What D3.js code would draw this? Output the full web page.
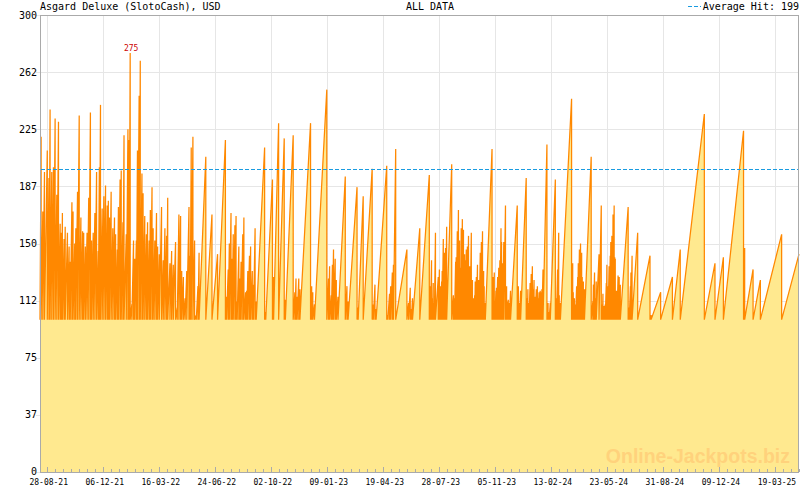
<!DOCTYPE html>
<html><head><meta charset="utf-8">
<script src="https://cdn.jsdelivr.net/npm/d3@7/dist/d3.min.js"></script>
<style>
body{margin:0;background:#fff}
svg{display:block}
text{font-family:"DejaVu Sans Mono",monospace;font-size:10px;fill:#000}
</style>
</head><body>
<svg id="chart" width="800" height="490"></svg>
<script>
// ---------- data ----------
const chartTitle = "Asgard Deluxe (SlotoCash), USD";
const chartSubtitle = "ALL DATA";
const averageHit = 199;
const seedValue = 100;          // value the jackpot resets to after a hit
const totalDays = 1355;         // 2021-08-16 .. 2025-05-02
const currentValue = 143;       // value at the right edge

// day of each hit (days since 2021-08-16)
const hitDays = [
  2,5,8,13,16,18,21,24,27,30,33,36,38,40,43,45,49,52,54,57,59,62,64,67,70,73,76,78,81,84,87,90,92,95,98,101,104,106,
  108,111,114,117,120,122,124,127,130,133,135,138,140,143,145,148,150,154,157,159,161,164,167,169,172,174,177,179,182,184,187,190,192,195,197,200,202,205,208,210,213,
  217,220,223,226,228,232,235,238,242,245,248,251,253,256,259,262,266,268,270,273,276,279,282,284,296,
  307,317,331,333,336,338,341,343,345,348,350,352,355,357,359,362,364,367,369,371,374,376,379,381,384,386,
  401,403,415,417,426,436,438,452,455,457,459,462,464,483,485,487,490,512,515,517,520,522,524,527,529,532,545,548,550,566,
  568,577,593,595,598,600,619,621,624,626,629,631,635,
  655,658,661,663,665,678,695,697,699,701,702,704,706,711,713,715,717,718,720,722,
  724,726,735,738,740,742,743,745,747,749,751,752,754,756,758,759,761,763,765,767,
  768,770,772,774,776,777,779,781,783,784,786,788,790,792,793,795,807,809,811,812,
  814,815,817,819,821,823,824,826,828,831,833,834,836,838,840,852,854,856,858,868,
  870,871,873,875,877,879,880,882,884,886,888,889,891,893,895,896,898,905,907,909,
  911,920,922,924,926,927,929,949,951,952,954,956,958,960,961,963,965,967,968,970,972,984,
  987,988,990,992,993,998,1002,1004,1005,1007,1009,1011,1012,1014,1016,1018,1019,1021,1022,1023,
  1025,1026,1027,1029,1030,1032,1034,1036,1050,1052,1054,1055,1057,1067,1089,1091,1108,1129,1143,1186,
  1205,1220,1256,1258,1273,1286,1324
];
// jackpot amount at each hit (USD)
const hitValues = [
  220,171,197,211,193,238,197,200,232,182,230,163,157,170,153,161,157,148,138,177,171,150,160,184,234,167,158,157,148,157,180,236,152,157,170,197,145,200,
  241,173,181,188,175,178,167,184,160,167,156,146,174,192,198,164,221,156,225,218,275,110,152,140,152,211,247,270,196,183,168,156,164,152,172,187,160,152,170,148,143,
  174,139,160,155,180,137,145,136,151,108,169,168,132,128,114,132,174,142,213,220,152,103,122,144,207,
  169,143,218,115,133,150,170,140,156,162,168,112,148,127,138,156,167,118,119,132,142,148,132,123,160,112,
  213,105,192,128,229,219,113,221,118,127,115,127,120,229,122,118,110,251,127,135,116,136,146,140,126,115,194,122,112,187,
  108,181,199,110,123,107,201,103,117,122,131,136,212,
  146,111,121,107,114,160,195,122,139,114,124,111,157,128,133,122,125,132,153,144,
  147,161,202,116,114,138,141,158,172,152,134,160,166,159,143,139,146,148,155,135,
  130,157,126,114,116,125,128,136,126,120,144,151,158,132,122,111,212,128,131,112,
  119,121,128,134,139,160,151,137,151,175,122,112,113,111,119,175,122,111,119,193,
  114,120,111,124,130,135,120,126,115,120,122,114,118,119,118,120,133,215,111,105,
  111,192,114,133,157,116,111,245,137,118,114,110,122,128,137,146,150,144,128,125,120,207,
  112,123,131,114,125,143,175,110,117,109,110,124,136,122,135,142,151,155,131,169,
  175,141,140,119,114,129,128,123,174,108,122,131,142,157,142,103,118,128,146,235,
  137,141,224,147,133,126,156
];

const yTickValues = [0,37.5,75,112.5,150,187.5,225,262.5,300];
const yTickLabels = ["0","37","75","112","150","187","225","262","300"];
const xTickDays = [12,112,212,312,412,512,612,712,812,912,1012,1112,1212,1312];
const xTickLabels = ["28-08-21","06-12-21","16-03-22","24-06-22","02-10-22","09-01-23","19-04-23",
                     "28-07-23","05-11-23","13-02-24","23-05-24","31-08-24","09-12-24","19-03-25"];
const minorTicksPerMajor = 7;

// ---------- drawing ----------
const svg = d3.select("#chart");
const L = 40, R = 799, T = 15, B = 472;
const x = d3.scaleLinear().domain([0, totalDays]).range([L, R]);
const y = d3.scaleLinear().domain([0, 300]).range([B, T]);

// grid
const grid = svg.append("g").attr("shape-rendering", "crispEdges");
grid.selectAll("line.h").data(yTickValues).join("line")
  .attr("x1", L - 4).attr("x2", R).attr("y1", d => Math.round(y(d)) + 0.5).attr("y2", d => Math.round(y(d)) + 0.5)
  .attr("stroke", "#e6e6e6");
grid.selectAll("line.v").data(xTickDays).join("line")
  .attr("x1", d => Math.round(x(d)) + 0.5).attr("x2", d => Math.round(x(d)) + 0.5)
  .attr("y1", T).attr("y2", B).attr("stroke", "#e6e6e6");

// series points
const pts = [[0, seedValue]];
hitDays.forEach((d, i) => { pts.push([d, hitValues[i]]); pts.push([d, seedValue]); });
pts.push([totalDays, currentValue]);

const area = d3.area().x(d => x(d[0])).y0(y(0)).y1(d => y(d[1]));
const line = d3.line().x(d => x(d[0])).y(d => y(d[1]));

svg.append("path").datum(pts).attr("d", area).attr("fill", "#ffe98f").attr("stroke", "none");

// watermark
svg.append("text").attr("x", 790).attr("y", 463).attr("text-anchor", "end")
  .style("font-family", "'Liberation Sans', Arial, sans-serif").style("font-weight", "bold")
  .style("font-size", "19.5px").style("fill", "#ffd27c").text("Online-Jackpots.biz");

svg.append("path").datum(pts).attr("d", line).attr("fill", "none")
  .attr("stroke", "#ff8800").attr("stroke-width", 1.25).attr("stroke-linejoin", "miter");

// average line
const avgY = Math.round(y(averageHit));
svg.append("path")
  .attr("d", `M${L + 1},${avgY}h${R - L - 2}v1.2h${-(R - L - 2)}z`)
  .attr("fill", "none").attr("stroke", "none");
svg.append("line").attr("x1", L + 1).attr("x2", R - 1)
  .attr("y1", avgY + 0.5).attr("y2", avgY + 0.5)
  .attr("stroke", "#1a9be0").attr("stroke-width", 1.4).attr("stroke-dasharray", "4,2")
  .attr("shape-rendering", "crispEdges");

// frame
svg.append("rect").attr("x", L + 0.5).attr("y", T + 0.5).attr("width", R - L - 1).attr("height", B - T)
  .attr("fill", "none").attr("stroke", "#aaaaaa").attr("shape-rendering", "crispEdges");

// y labels
svg.selectAll("text.yl").data(yTickValues).join("text")
  .attr("x", 37).attr("y", d => d === 0 ? y(d) - 1 : y(d)).attr("dy", "0.35em").attr("text-anchor", "end")
  .text((d, i) => yTickLabels[i]);

// x ticks (pointing up into the plot)
const minor = [];
xTickDays.forEach(d => { for (let k = 1; k < minorTicksPerMajor; k++) minor.push(d + k * 100 / minorTicksPerMajor); });
const tk = svg.append("g").attr("shape-rendering", "crispEdges");
tk.selectAll("line.mi").data(minor.filter(d => d <= totalDays)).join("line")
  .attr("x1", d => Math.round(x(d)) + 0.5).attr("x2", d => Math.round(x(d)) + 0.5)
  .attr("y1", B).attr("y2", B - 3).attr("stroke", "#aaaaaa");
tk.selectAll("line.ma").data(xTickDays).join("line")
  .attr("x1", d => Math.round(x(d)) + 0.5).attr("x2", d => Math.round(x(d)) + 0.5)
  .attr("y1", B).attr("y2", B - 5).attr("stroke", "#aaaaaa");
svg.selectAll("text.xl").data(xTickDays).join("text")
  .attr("x", d => x(d) + 2).attr("y", 485).attr("text-anchor", "middle")
  .style("font-size", "8px")
  .text((d, i) => xTickLabels[i]);

// titles
svg.append("text").attr("x", 40).attr("y", 10).text(chartTitle);
svg.append("text").attr("x", 430).attr("y", 10).attr("text-anchor", "middle").text(chartSubtitle);
svg.append("text").attr("x", 799).attr("y", 10).attr("text-anchor", "end").text("Average Hit: " + averageHit);
svg.append("line").attr("x1", 688).attr("x2", 701).attr("y1", 6.5).attr("y2", 6.5)
  .attr("stroke", "#1a9be0").attr("stroke-width", 1.4).attr("stroke-dasharray", "4,2")
  .attr("shape-rendering", "crispEdges");

// max label
const maxI = d3.maxIndex(hitValues);
svg.append("text").attr("x", x(hitDays[maxI]) + 1).attr("y", y(hitValues[maxI]) - 2)
  .attr("text-anchor", "middle").style("font-size", "8px").style("fill", "#cc0000")
  .text(hitValues[maxI]);
</script>
</body></html>
